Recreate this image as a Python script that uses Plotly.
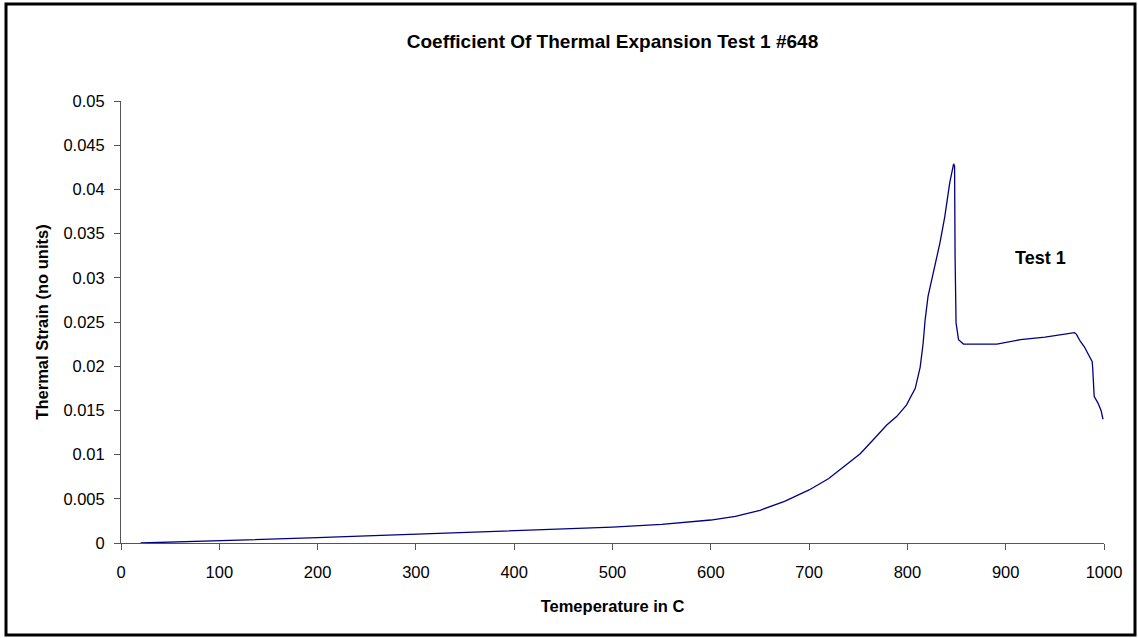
import plotly.graph_objects as go

# Temperature (C) and thermal strain
temperature = [20, 50, 100, 150, 200, 250, 300, 350, 400, 450, 500, 550, 600, 625, 650,
               675, 700, 720, 733, 752, 765, 779, 789, 799, 808, 813, 816, 818, 821, 826,
               833, 838, 843, 847, 848, 848.5, 849.5, 852, 857, 891, 915, 940, 960, 970,
               972, 976, 980, 984, 988, 988.5, 990, 994, 997, 999]
strain = [0.0, 0.0001, 0.0002, 0.0004, 0.0006, 0.0008, 0.0010, 0.0012, 0.0014, 0.0016,
          0.0018, 0.0021, 0.0026, 0.0030, 0.0037, 0.0047, 0.0060, 0.0073, 0.00845, 0.0101,
          0.01165, 0.01335, 0.0143, 0.0156, 0.0175, 0.0199, 0.0226, 0.0252, 0.0279, 0.0305,
          0.0339, 0.0369, 0.0407, 0.0429, 0.0426, 0.0324, 0.0249, 0.0230, 0.0225, 0.0225,
          0.0230, 0.0233, 0.0236, 0.0238, 0.0236, 0.0228, 0.0222, 0.0214, 0.0205, 0.0198,
          0.0166, 0.0158, 0.0150, 0.0140]

x_ticks = [0, 100, 200, 300, 400, 500, 600, 700, 800, 900, 1000]
x_tick_text = ["0", "100", "200", "300", "400", "500", "600", "700", "800", "900", "1000"]
y_ticks = [0, 0.005, 0.01, 0.015, 0.02, 0.025, 0.03, 0.035, 0.04, 0.045, 0.05]
y_tick_text = ["0", "0.005", "0.01", "0.015", "0.02", "0.025", "0.03", "0.035", "0.04", "0.045", "0.05"]

FONT = "Liberation Sans, Arial, sans-serif"
TICK_SIZE = 16.5

fig = go.Figure()
fig.add_trace(go.Scatter(x=temperature, y=strain, mode="lines",
                         line=dict(color="#000080", width=1.3), name="Test 1",
                         showlegend=False))

W, H = 1138, 638
L, R, T, B = 121, 34, 101, 95
pw, ph = W - L - R, H - T - B

def px(xp):
    return (xp - L) / pw

def py(yp):
    return (H - B - yp) / ph

fig.update_layout(
    width=W, height=H,
    margin=dict(l=L, r=R, t=T, b=B, autoexpand=False),
    paper_bgcolor="white", plot_bgcolor="white",
    font=dict(family=FONT, size=TICK_SIZE, color="black"),
    title=dict(text="<b>Coefficient Of Thermal Expansion Test 1 #648</b>",
               x=0.5, xref="paper", y=1 - 41 / H, yanchor="middle",
               font=dict(family=FONT, size=19, color="black")),
    xaxis=dict(range=[0, 1000], tickvals=x_ticks, ticktext=x_tick_text,
               showgrid=False, zeroline=False, showline=True, linecolor="#555555",
               linewidth=1, ticks="outside", ticklen=6, tickcolor="#555555",
               ticklabelstandoff=8,
               tickfont=dict(family=FONT, size=TICK_SIZE, color="black"),
               title=dict(text="<b>Temeperature in C</b>", standoff=20,
                          font=dict(family=FONT, size=TICK_SIZE, color="black"))),
    yaxis=dict(range=[0, 0.05], tickvals=y_ticks, ticktext=y_tick_text,
               showgrid=False, zeroline=False, showline=True, linecolor="#555555",
               linewidth=1, ticks="outside", ticklen=6, tickcolor="#555555",
               ticklabelstandoff=6,
               tickfont=dict(family=FONT, size=TICK_SIZE, color="black"),
               title=dict(text="<b>Thermal Strain (no units)</b>", standoff=10,
                          font=dict(family=FONT, size=TICK_SIZE, color="black"))),
)

fig.add_annotation(x=935, y=0.0322, xref="x", yref="y", text="<b>Test 1</b>",
                   showarrow=False, font=dict(family=FONT, size=18, color="black"))

fig.add_shape(type="rect", xref="paper", yref="paper",
              x0=px(6), x1=px(1135), y0=py(635), y1=py(4),
              line=dict(color="black", width=3), fillcolor="rgba(0,0,0,0)", layer="above")

fig.write_html("out.html")
